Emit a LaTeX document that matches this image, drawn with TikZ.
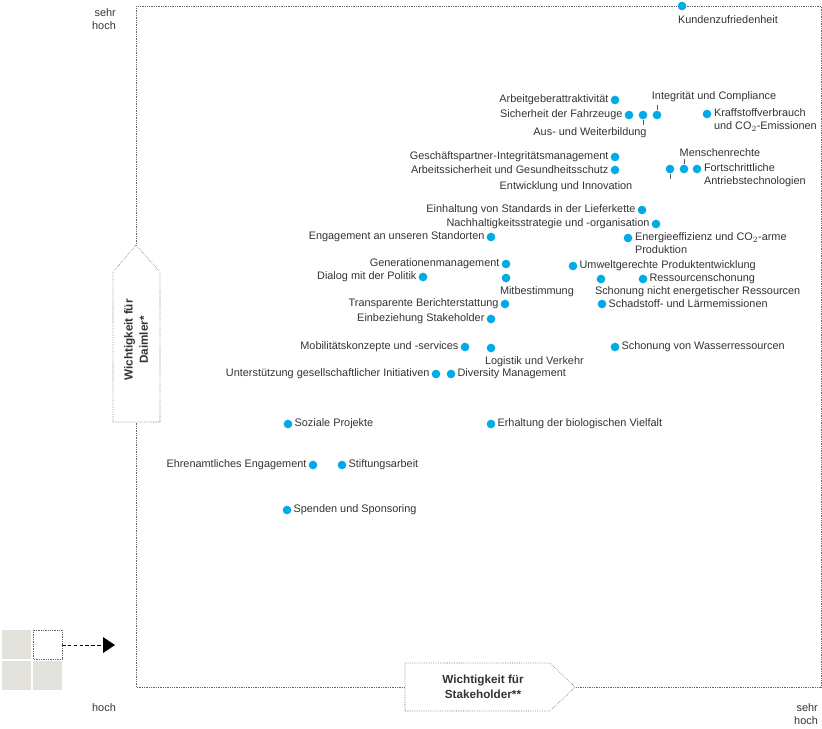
\documentclass[tikz,border=0pt]{standalone}
\usepackage{fontspec}
\setmainfont{Liberation Sans}
\usetikzlibrary{positioning}
\definecolor{dotblue}{RGB}{0,170,230}
\definecolor{tilegray}{RGB}{226,225,220}
\begin{document}
\begin{tikzpicture}[x=0.03cm, y=-0.03cm,
        dot/.style={circle, fill=dotblue, inner sep=0pt, minimum size=0.26cm},
        lbl/.style={font=\fontsize{9.3}{11}\selectfont, text=black!80, inner sep=1.5pt},
        lbl2/.style={lbl, align=left, anchor=north west},
        bold/.style={lbl, font=\fontsize{10}{13}\selectfont\bfseries, align=center},
        frame/.style={densely dotted, gray!80!black, line width=0.5pt},
        tick/.style={gray!70!black, line width=0.5pt}
    ]
        \useasboundingbox (0,0) rectangle (822,728);
        % frame
        \draw[frame] (136,6) rectangle (821,687);
        % axis boxes
        \filldraw[frame, fill=white] (113,422) -- (113,272) -- (136,245) -- (160,272) -- (160,422) -- cycle;
        \node[bold, rotate=90] (ydaim) at (136,340) {Wichtigkeit für\\Daimler*};
        \filldraw[frame, fill=white] (405,663) -- (550,663) -- (575,687) -- (550,711) -- (405,711) -- cycle;
        \node[bold] (xstake) at (483,687) {Wichtigkeit für\\Stakeholder**};
        % axis ticks
        \node[lbl, align=right] (ytop) at (104,19) {sehr\\hoch};
        \node[lbl] (xlow) at (104,708) {hoch};
        \node[lbl, align=right] (xtop) at (806,714) {sehr\\hoch};
        % icon
        \fill[tilegray] (2,630) rectangle (31,659);
        \fill[tilegray] (2,661) rectangle (31,690);
        \fill[tilegray] (33,661) rectangle (62,690);
        \draw[frame] (33,630) rectangle (62,659);
        \coordinate (icon) at (62,645);
        \coordinate (tip) at (103,645);
        \draw[densely dashed, line width=0.5pt] (icon) -- (tip);
        \fill (103,637) -- (115,645) -- (103,653) -- cycle;

        % points
        \node[dot] (kunde) at (682,6) {};
        \node[lbl, anchor=north west] (kundel) at (676,14) {Kundenzufriedenheit};
        \node[dot, label={[lbl]left:Arbeitgeberattraktivität}] (agattr) at (615,100) {};
        \node[dot, label={[lbl]left:Sicherheit der Fahrzeuge}] (sicher) at (629,115) {};
        \node[dot] (ausbild) at (643,115) {};
        \node[lbl] (ausbildl) at (590,133) {Aus- und Weiterbildung};
        \draw[tick] (ausbild) -- (643,125);
        \node[dot] (integ) at (657,115) {};
        \node[lbl] (integl) at (714,97) {Integrität und Compliance};
        \draw[tick] (integ) -- (657,105);
        \node[dot] (kraft) at (707,114) {};
        \node[lbl2] (kraftl) at (712,107) {Kraffstoffverbrauch\\und CO$_2$-Emissionen};
        \node[dot, label={[lbl]left:Geschäftspartner-Integritätsmanagement}] (gpim) at (615,157) {};
        \node[dot, label={[lbl]left:Arbeitssicherheit und Gesundheitsschutz}] (arbsich) at (615,170) {};
        \node[dot] (entw) at (670,169) {};
        \node[lbl] (entwl) at (566,187) {Entwicklung und Innovation};
        \draw[tick] (entw) -- (670,179);
        \node[dot] (mensch) at (684,169) {};
        \node[lbl] (menschl) at (720,153) {Menschenrechte};
        \draw[tick] (mensch) -- (684,159);
        \node[dot] (antrieb) at (697,169) {};
        \node[lbl2] (antriebl) at (702,162) {Fortschrittliche\\Antriebstechnologien};
        \node[dot, label={[lbl]left:Einhaltung von Standards in der Lieferkette}] (liefer) at (642,210) {};
        \node[dot, label={[lbl]left:Nachhaltigkeitsstrategie und -organisation}] (nachh) at (656,224) {};
        \node[dot] (energie) at (628,238) {};
        \node[lbl2] (energiel) at (633,231) {Energieeffizienz und CO$_2$-arme\\Produktion};
        \node[dot, label={[lbl]left:Engagement an unseren Standorten}] (standort) at (491,237) {};
        \node[dot, label={[lbl]left:Generationenmanagement}] (genman) at (506,264) {};
        \node[dot, label={[lbl]right:Umweltgerechte Produktentwicklung}] (umwelt) at (573,266) {};
        \node[dot, label={[lbl]left:Dialog mit der Politik}] (politik) at (423,277) {};
        \node[dot] (mitbest) at (506,278) {};
        \node[lbl, anchor=north west] (mitbestl) at (498,285) {Mitbestimmung};
        \node[dot, label={[lbl]right:Ressourcenschonung}] (ressour) at (643,279) {};
        \node[dot] (nichtene) at (601,279) {};
        \node[lbl, anchor=north west] (nichtenel) at (593,285) {Schonung nicht energetischer Ressourcen};
        \node[dot, label={[lbl]left:Transparente Berichterstattung}] (bericht) at (505,304) {};
        \node[dot, label={[lbl]right:Schadstoff- und Lärmemissionen}] (schad) at (602,304) {};
        \node[dot, label={[lbl]left:Einbeziehung Stakeholder}] (einbez) at (491,319) {};
        \node[dot, label={[lbl]left:Mobilitätskonzepte und -services}] (mobil) at (465,347) {};
        \node[dot] (logistik) at (491,348) {};
        \node[lbl, anchor=north west] (logistikl) at (483,355) {Logistik und Verkehr};
        \node[dot, label={[lbl]right:Schonung von Wasserressourcen}] (wasser) at (615,347) {};
        \node[dot, label={[lbl]left:Unterstützung gesellschaftlicher Initiativen}] (initiat) at (436,374) {};
        \node[dot, label={[lbl]right:Diversity Management}] (divers) at (451,374) {};
        \node[dot, label={[lbl]right:Soziale Projekte}] (sozial) at (288,424) {};
        \node[dot, label={[lbl]right:Erhaltung der biologischen Vielfalt}] (vielfalt) at (491,424) {};
        \node[dot, label={[lbl]left:Ehrenamtliches Engagement}] (ehrenamt) at (313,465) {};
        \node[dot, label={[lbl]right:Stiftungsarbeit}] (stiftung) at (342,465) {};
        \node[dot, label={[lbl]right:Spenden und Sponsoring}] (spenden) at (287,510) {};
    \end{tikzpicture}
\end{document}
